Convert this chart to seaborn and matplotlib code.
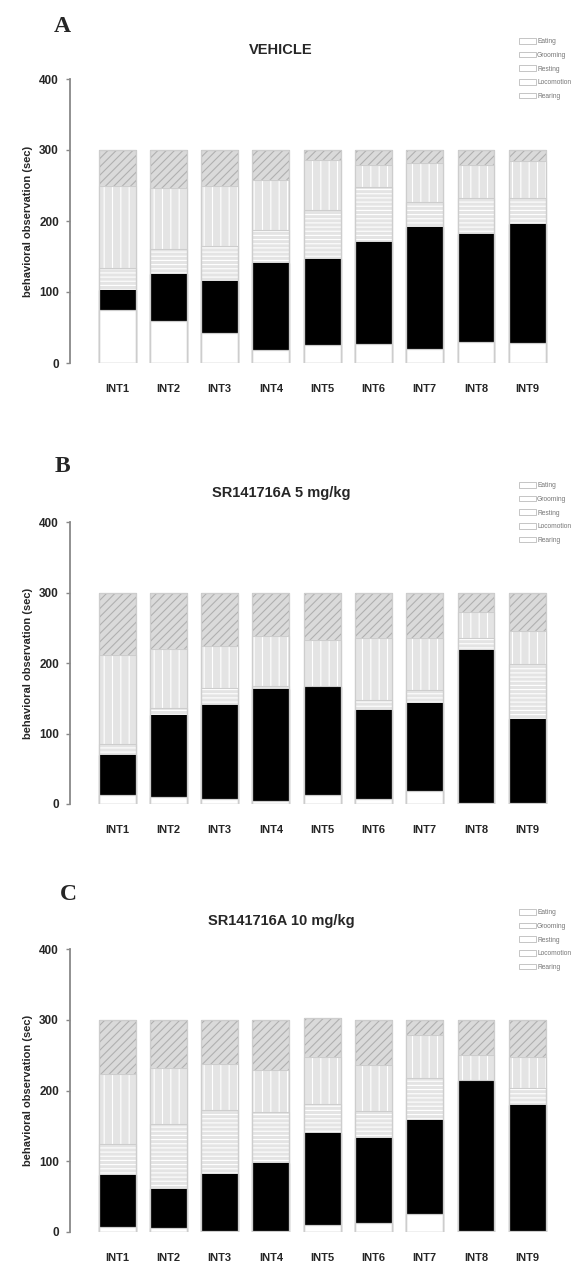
import numpy as np
import pandas as pd
import seaborn as sns
import matplotlib.pyplot as plt
from matplotlib.patches import Patch

# intervals and behaviours
intervals = ['INT1', 'INT2', 'INT3', 'INT4', 'INT5', 'INT6', 'INT7', 'INT8', 'INT9']
behaviours = ['Eating', 'Grooming', 'Resting', 'Locomotion', 'Rearing']

# seconds per behaviour, panel A (vehicle)
veh_eating = [75, 59, 42, 19, 25, 27, 20, 30, 28]
veh_grooming = [28, 66, 73, 122, 122, 143, 172, 152, 168]
veh_resting = [31, 35, 50, 46, 69, 78, 35, 51, 37]
veh_locomotion = [116, 86, 85, 71, 70, 31, 55, 46, 52]
veh_rearing = [50, 54, 50, 42, 14, 21, 18, 21, 15]

# panel B (SR141716A 5 mg/kg)
sr5_eating = [13, 10, 7, 4, 13, 7, 19, 1, 2]
sr5_grooming = [56, 116, 133, 159, 153, 126, 124, 217, 119]
sr5_resting = [16, 10, 24, 4, 2, 15, 19, 18, 77]
sr5_locomotion = [127, 84, 60, 71, 65, 88, 74, 37, 48]
sr5_rearing = [88, 80, 76, 62, 67, 64, 64, 27, 54]

# panel C (SR141716A 10 mg/kg)
sr10_eating = [7, 5, 2, 2, 10, 13, 25, 2, 2]
sr10_grooming = [73, 56, 80, 95, 130, 120, 134, 211, 178]
sr10_resting = [45, 91, 91, 73, 41, 38, 58, 2, 23]
sr10_locomotion = [99, 80, 65, 59, 66, 65, 61, 35, 44]
sr10_rearing = [76, 68, 62, 71, 56, 64, 22, 50, 53]

panels = [
    ('A', 'VEHICLE', [veh_eating, veh_grooming, veh_resting, veh_locomotion, veh_rearing]),
    ('B', 'SR141716A 5 mg/kg', [sr5_eating, sr5_grooming, sr5_resting, sr5_locomotion, sr5_rearing]),
    ('C', 'SR141716A 10 mg/kg', [sr10_eating, sr10_grooming, sr10_resting, sr10_locomotion, sr10_rearing]),
]

# fill colour, hatch colour, hatch pattern per behaviour
styles = {
    'Eating': ('white', '#d4d4d4', None),
    'Grooming': ('black', 'black', None),
    'Resting': ('#e4e4e4', 'white', '----'),
    'Locomotion': ('#e4e4e4', 'white', '||'),
    'Rearing': ('#dadada', '#b0b0b0', '////'),
}

sns.set_style('white')
plt.rcParams['font.family'] = ['Liberation Sans', 'DejaVu Sans']
plt.rcParams['hatch.linewidth'] = 0.8

W, H = 584, 1265
fig = plt.figure(figsize=(W / 100, H / 100), dpi=100)

# pixel layout of each panel: (axes top, axes bottom, label y, title y, legend top)
layout = [(79, 363, 26, 50, 38), (522, 804, 467, 493, 482), (949, 1232, 895, 921, 909)]
label_x = [62, 62, 68]

for (letter, title, segs), (top, bot, ly, ty, lgy), lx in zip(panels, layout, label_x):
    ax = fig.add_axes([70 / W, 1 - bot / H, 488 / W, (bot - top) / H])
    df = pd.DataFrame(np.array(segs).T, columns=behaviours)
    df['interval'] = intervals
    cum = df[behaviours].cumsum(axis=1)

    # draw cumulative totals from top layer down so each covers the one above
    for b in reversed(behaviours):
        face, hc, hatch = styles[b]
        sns.barplot(x=df['interval'], y=cum[b], ax=ax, color=face, saturation=1,
                    width=0.72, errorbar=None, edgecolor=hc, linewidth=0.8,
                    hatch=hatch)
    # light outlines of the segments
    for b in behaviours:
        if b == 'Grooming':
            continue
        sns.barplot(x=df['interval'], y=cum[b], ax=ax, color='#cdcdcd', fill=False,
                    width=0.72, errorbar=None, linewidth=0.8)

    ax.set_xlim(-0.92, 8.6)
    ax.set_ylim(0, 400)
    ax.set_yticks([0, 100, 200, 300, 400])
    ax.set_xlabel('')
    ax.set_ylabel('behavioral observation (sec)', fontsize=8, fontweight='bold',
                  labelpad=4)
    for s in ['top', 'right', 'bottom']:
        ax.spines[s].set_visible(False)
    ax.spines['left'].set_color('#888888')
    ax.spines['left'].set_linewidth(1.3)
    ax.tick_params(axis='y', length=3, width=1, color='#888888', pad=5,
                   labelsize=8.5, left=True)
    ax.tick_params(axis='x', length=0, pad=15, labelsize=8)
    for t in ax.get_xticklabels() + ax.get_yticklabels():
        t.set_fontweight('bold')

    fig.text(lx / W, 1 - ly / H, letter, fontsize=17, fontweight='bold',
             family=['Liberation Serif', 'DejaVu Serif'], ha='center', va='center')
    fig.text(281 / W, 1 - ty / H, title, fontsize=10.5, fontweight='bold',
             ha='center', va='center')

    handles = [Patch(facecolor='white', edgecolor='#bbbbbb', linewidth=0.6)
               for _ in behaviours]
    fig.legend(handles, behaviours, loc='upper left',
               bbox_to_anchor=(519 / W, 1 - lgy / H), frameon=False,
               fontsize=4.8, labelcolor='#777777', handlelength=2.6,
               handleheight=0.9, handletextpad=0.1, labelspacing=1.0,
               borderpad=0, borderaxespad=0)

fig.savefig('out.png', dpi=100)
